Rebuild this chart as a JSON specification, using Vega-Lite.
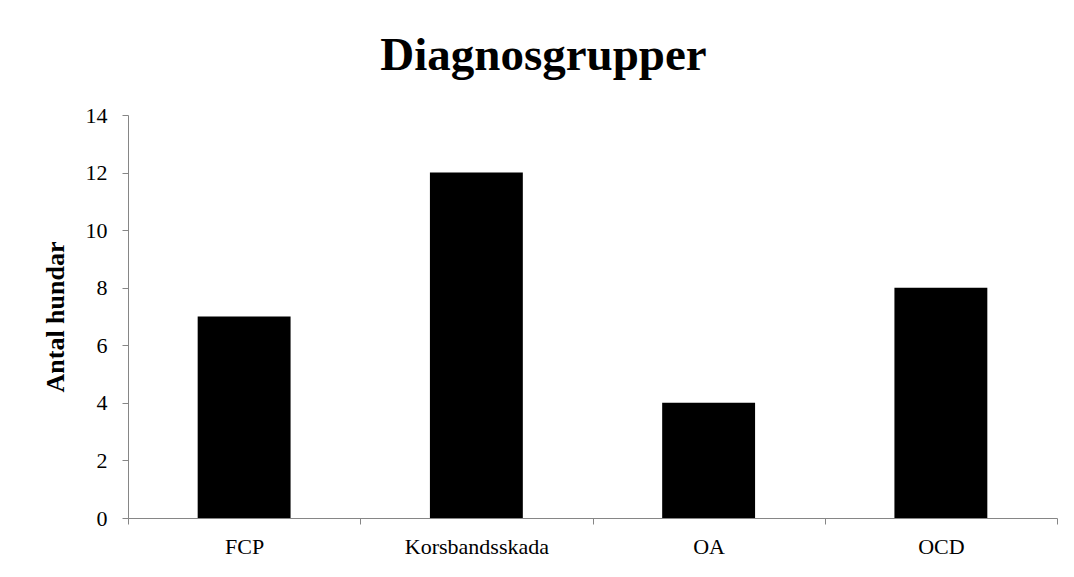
{
  "$schema": "https://vega.github.io/schema/vega-lite/v6.json",
  "width": 929,
  "height": 403,
  "autosize": {"type": "none"},
  "padding": {"left": 128, "top": 115, "right": 17, "bottom": 59},
  "background": "white",
  "title": {
    "text": "Diagnosgrupper",
    "font": "Liberation Serif",
    "fontSize": 47,
    "fontWeight": "bold",
    "color": "black",
    "anchor": "middle",
    "offset": 24,
    "dx": -49
  },
  "data": {
    "values": [
      {"diagnos": "FCP", "antal": 7},
      {"diagnos": "Korsbandsskada", "antal": 12},
      {"diagnos": "OA", "antal": 4},
      {"diagnos": "OCD", "antal": 8}
    ]
  },
  "mark": {"type": "bar", "color": "black", "width": {"band": 0.4}},
  "encoding": {
    "x": {
      "field": "diagnos",
      "type": "nominal",
      "sort": null,
      "scale": {"paddingInner": 0, "paddingOuter": 0},
      "axis": {
        "title": null,
        "labelAngle": 0,
        "tickBand": "extent",
        "labelPadding": 12,
        "labelFontSize": 22
      }
    },
    "y": {
      "field": "antal",
      "type": "quantitative",
      "scale": {"domain": [0, 14], "nice": false},
      "axis": {
        "title": "Antal hundar",
        "values": [0, 2, 4, 6, 8, 10, 12, 14],
        "grid": false,
        "labelFontSize": 22,
        "labelPadding": 15,
        "titleFontSize": 26,
        "titleFontWeight": "bold",
        "titlePadding": 17
      }
    }
  },
  "config": {
    "font": "Liberation Serif",
    "view": {"stroke": null},
    "axis": {
      "domainColor": "#868686",
      "tickColor": "#868686",
      "tickSize": 6,
      "labelColor": "black",
      "titleColor": "black",
      "labelFont": "Liberation Serif",
      "titleFont": "Liberation Serif"
    }
  }
}
